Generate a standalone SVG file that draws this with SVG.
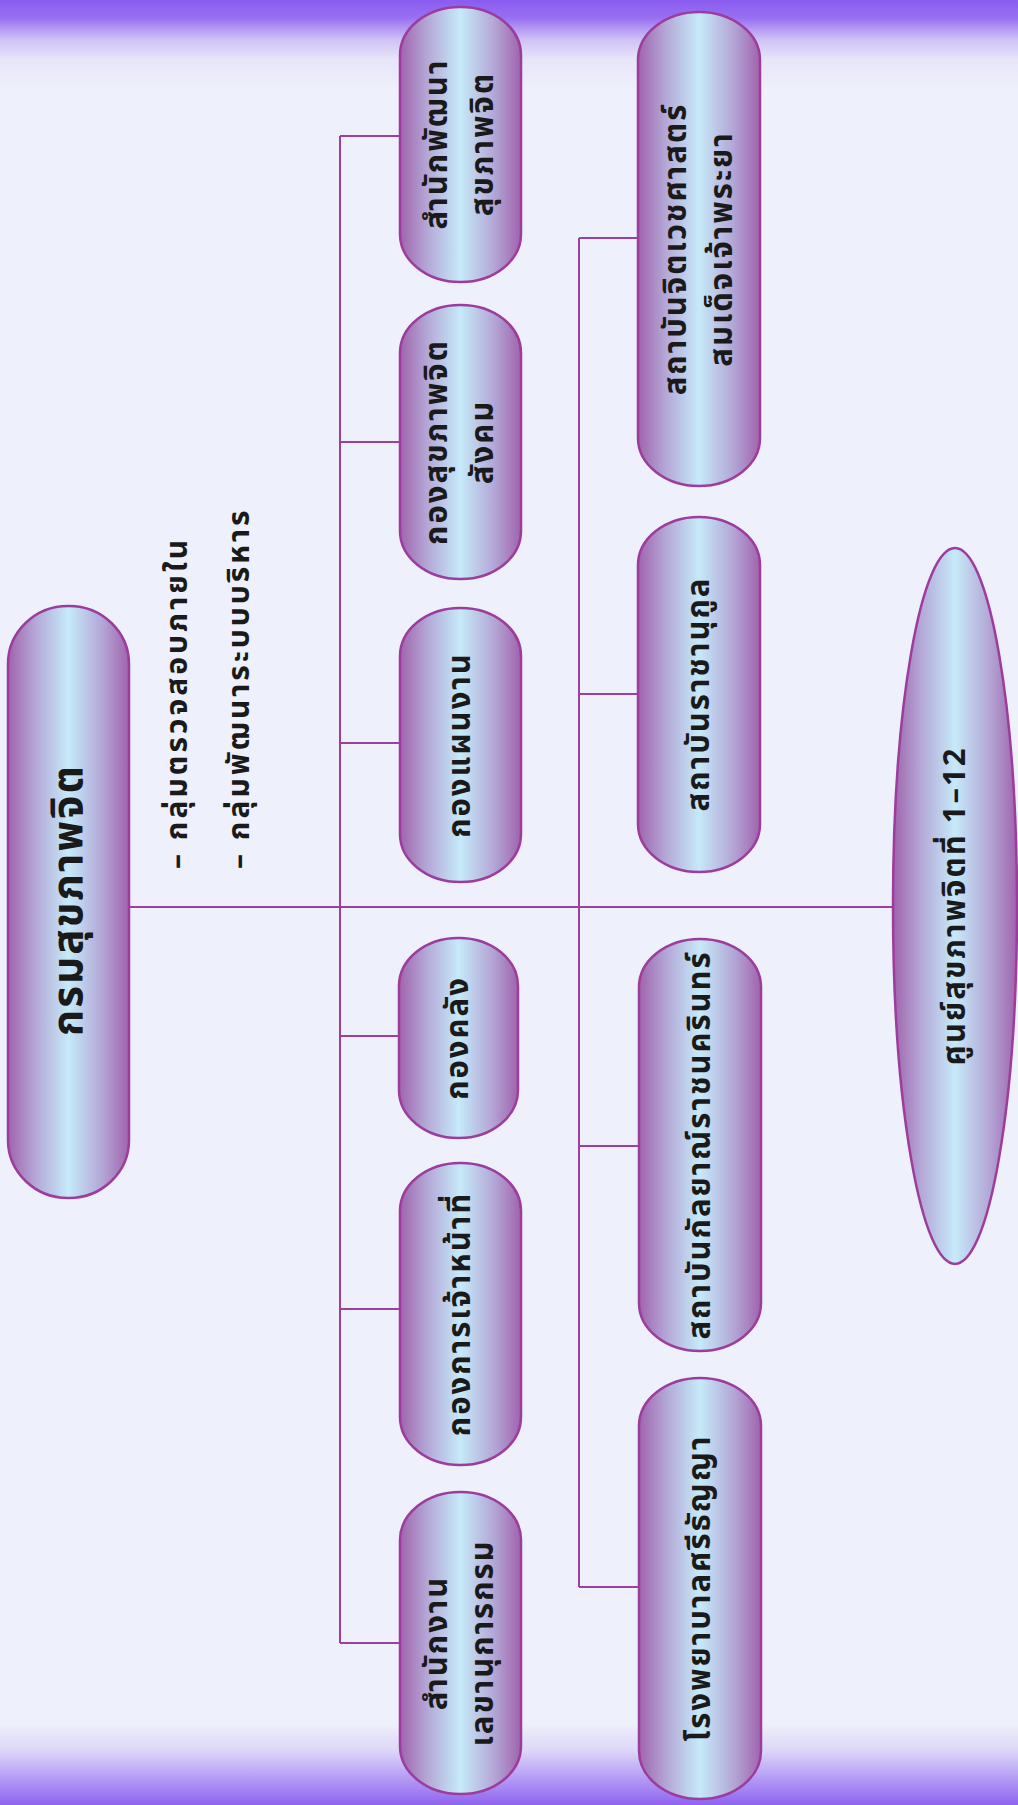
<svg xmlns="http://www.w3.org/2000/svg" width="1018" height="1805" viewBox="0 0 1018 1805">
<defs>
<linearGradient id="bg" x1="0" y1="0" x2="0" y2="1">
<stop offset="0" stop-color="#8a5cf0"/>
<stop offset="0.01" stop-color="#9870f2"/>
<stop offset="0.022" stop-color="#cfc2f6"/>
<stop offset="0.033" stop-color="#e8e5f9"/>
<stop offset="0.05" stop-color="#eef0fb"/>
<stop offset="0.955" stop-color="#eef0fb"/>
<stop offset="0.97" stop-color="#ddd6f8"/>
<stop offset="0.985" stop-color="#b49cf4"/>
<stop offset="1" stop-color="#9064f0"/>
</linearGradient>
<linearGradient id="nodeFill" x1="0" y1="0" x2="1" y2="0">
<stop offset="0" stop-color="#a063ac"/>
<stop offset="0.22" stop-color="#b3a6d6"/>
<stop offset="0.5" stop-color="#c6eaf9"/>
<stop offset="0.78" stop-color="#b3a6d6"/>
<stop offset="1" stop-color="#a063ac"/>
</linearGradient>
<style>
.node{fill:url(#nodeFill);stroke:#9c3d9e;stroke-width:2.5}
.conn{stroke:#9b3fa0;stroke-width:2;fill:none}
.t{font-family:'Noto Sans Thai','Noto Sans','DejaVu Sans',sans-serif;font-weight:bold;fill:#1a1a1a;text-anchor:middle;font-size:31px;letter-spacing:2px}
.s{font-family:'Noto Sans Thai','Noto Sans','DejaVu Sans',sans-serif;font-weight:bold;fill:#1a1a1a;font-size:30px;letter-spacing:3px}
</style>
</defs>
<rect x="0" y="0" width="1018" height="1805" fill="url(#bg)"/>

<g id="connectors">
<line class="conn" x1="129" y1="907" x2="892" y2="907"/>
<line class="conn" x1="340" y1="136" x2="340" y2="1643"/>
<line class="conn" x1="579" y1="238" x2="579" y2="1587"/>
<line class="conn" x1="340" y1="136" x2="400" y2="136"/>
<line class="conn" x1="340" y1="442" x2="400" y2="442"/>
<line class="conn" x1="340" y1="743" x2="400" y2="743"/>
<line class="conn" x1="340" y1="1036" x2="399" y2="1036"/>
<line class="conn" x1="340" y1="1309" x2="400" y2="1309"/>
<line class="conn" x1="340" y1="1643" x2="400" y2="1643"/>
<line class="conn" x1="579" y1="238" x2="638" y2="238"/>
<line class="conn" x1="579" y1="694" x2="638" y2="694"/>
<line class="conn" x1="579" y1="1146" x2="639" y2="1146"/>
<line class="conn" x1="579" y1="1587" x2="639" y2="1587"/>
</g>

<g id="main">
<rect class="node" x="8" y="606" width="121" height="592" rx="60" ry="58"/>
<text class="t" style="font-size:42px;letter-spacing:2px" transform="translate(68.5,900) rotate(-90)" dy="0.32em">กรมสุขภาพจิต</text>
</g>

<g id="notes">
<text class="s" transform="translate(178,869) rotate(-90)" dy="0.3em">– กลุ่มตรวจสอบภายใน</text>
<text class="s" transform="translate(240,869) rotate(-90)" dy="0.3em">– กลุ่มพัฒนาระบบบริหาร</text>
</g>

<g id="n1">
<rect class="node" x="400" y="7" width="121" height="275" rx="60" ry="48"/>
<text class="t" transform="translate(460.5,144) rotate(-90)"><tspan x="0" y="-23" dy="0.32em">สำนักพัฒนา</tspan><tspan x="0" y="23" dy="0.32em">สุขภาพจิต</tspan></text>
</g>
<g id="n2">
<rect class="node" x="400" y="305" width="121" height="274" rx="60" ry="48"/>
<text class="t" transform="translate(460.5,442) rotate(-90)"><tspan x="0" y="-23" dy="0.32em">กองสุขภาพจิต</tspan><tspan x="0" y="23" dy="0.32em">สังคม</tspan></text>
</g>
<g id="n3">
<rect class="node" x="400" y="608" width="121" height="274" rx="60" ry="48"/>
<text class="t" transform="translate(460.5,745) rotate(-90)" dy="0.32em">กองแผนงาน</text>
</g>
<g id="n4">
<rect class="node" x="399" y="938" width="119" height="200" rx="59" ry="48"/>
<text class="t" transform="translate(458.5,1038) rotate(-90)" dy="0.32em">กองคลัง</text>
</g>
<g id="n5">
<rect class="node" x="400" y="1163" width="121" height="302" rx="60" ry="48"/>
<text class="t" transform="translate(460.5,1314) rotate(-90)" dy="0.32em">กองการเจ้าหน้าที่</text>
</g>
<g id="n6">
<rect class="node" x="400" y="1492" width="121" height="302" rx="60" ry="48"/>
<text class="t" transform="translate(460.5,1643) rotate(-90)"><tspan x="0" y="-23" dy="0.32em">สำนักงาน</tspan><tspan x="0" y="23" dy="0.32em">เลขานุการกรม</tspan></text>
</g>

<g id="m1">
<rect class="node" x="638" y="12" width="122" height="474" rx="61" ry="48"/>
<text class="t" transform="translate(699,249) rotate(-90)"><tspan x="0" y="-23" dy="0.32em">สถาบันจิตเวชศาสตร์</tspan><tspan x="0" y="23" dy="0.32em">สมเด็จเจ้าพระยา</tspan></text>
</g>
<g id="m2">
<rect class="node" x="638" y="517" width="122" height="355" rx="61" ry="48"/>
<text class="t" transform="translate(699,694) rotate(-90)" dy="0.32em">สถาบันราชานุกูล</text>
</g>
<g id="m3">
<rect class="node" x="639" y="939" width="122" height="412" rx="61" ry="48"/>
<text class="t" transform="translate(700,1145) rotate(-90)" dy="0.32em">สถาบันกัลยาณ์ราชนครินทร์</text>
</g>
<g id="m4">
<rect class="node" x="639" y="1378" width="122" height="421" rx="61" ry="48"/>
<text class="t" transform="translate(700,1588) rotate(-90)" dy="0.32em">โรงพยาบาลศรีธัญญา</text>
</g>

<g id="centers">
<ellipse class="node" cx="955" cy="906" rx="62" ry="358"/>
<text class="t" transform="translate(955,906) rotate(-90)" dy="0.32em">ศูนย์สุขภาพจิตที่ 1–12</text>
</g>
</svg>
